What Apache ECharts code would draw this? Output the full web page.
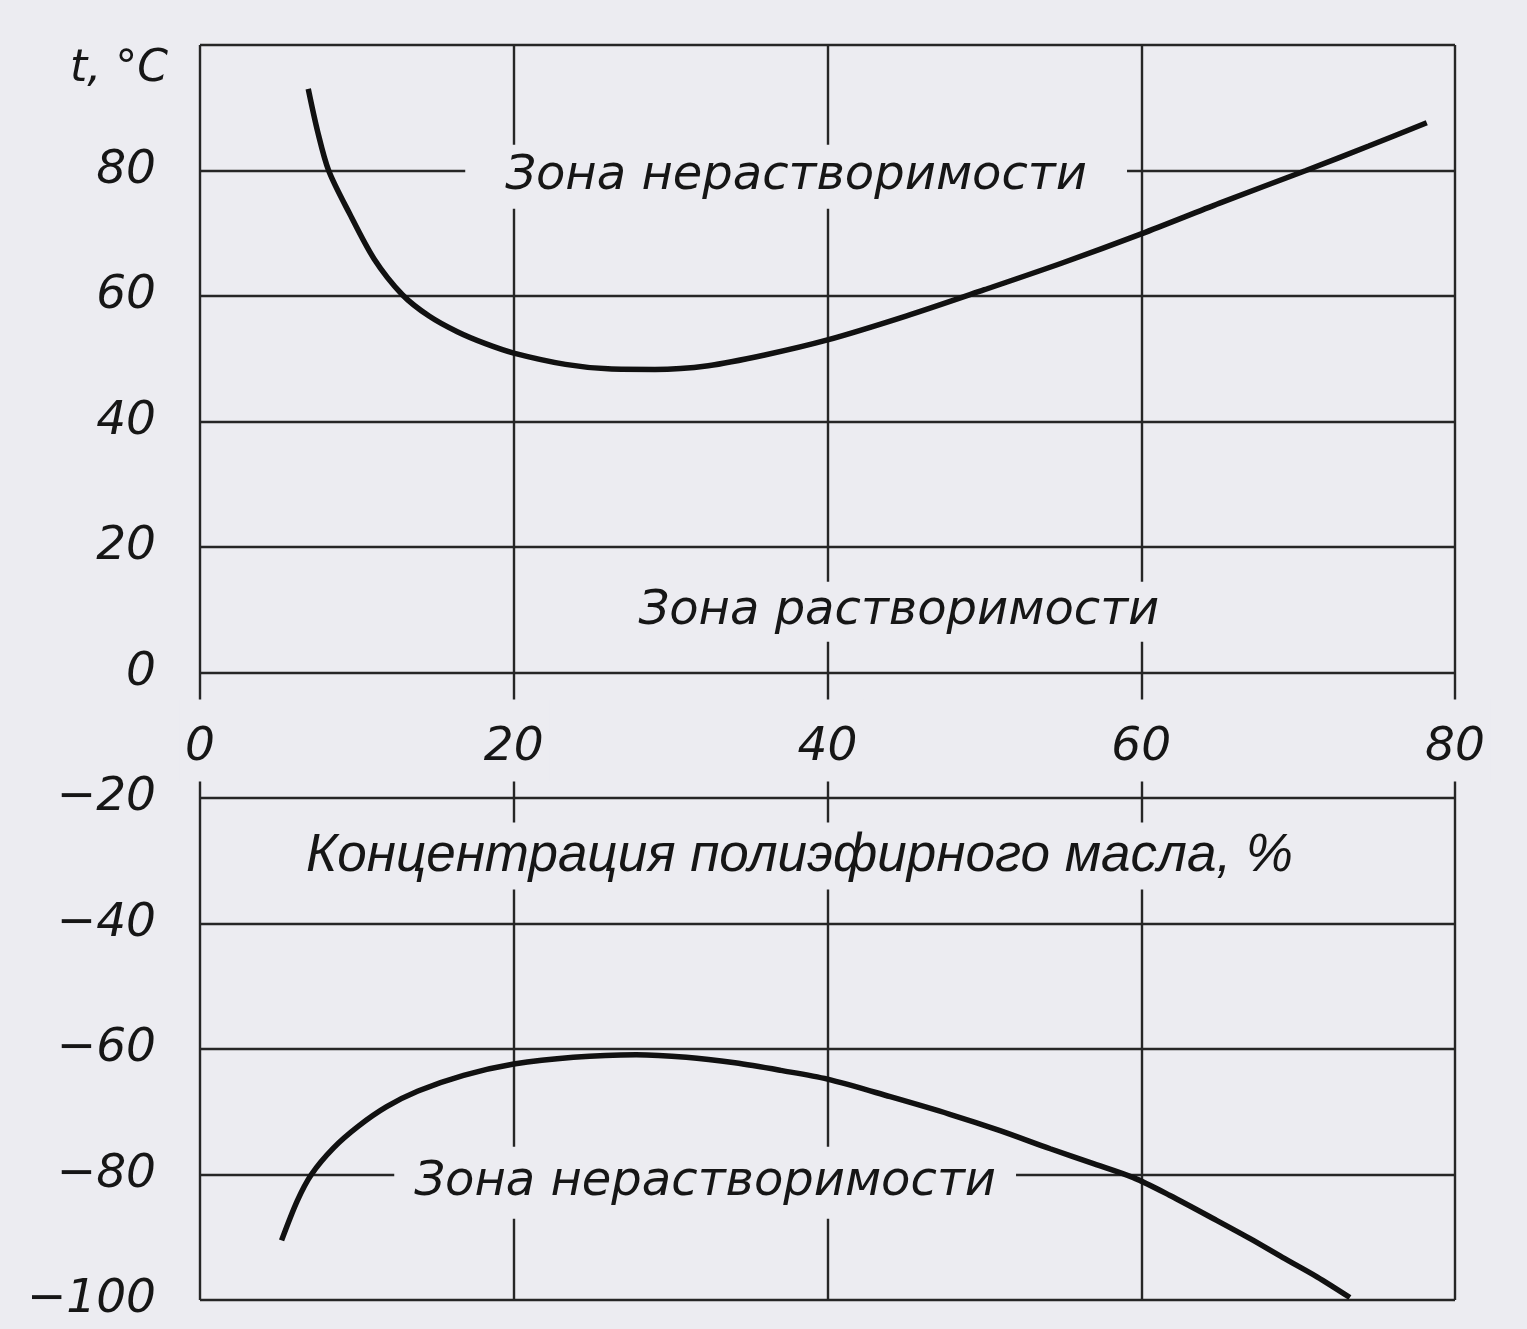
<!DOCTYPE html>
<html>
<head>
<meta charset="utf-8">
<script src="https://cdn.jsdelivr.net/npm/echarts@6/dist/echarts.min.js"></script>
<style>
html,body{margin:0;padding:0;background:#ececf1;}
#chart{width:1527px;height:1329px;}
</style>
</head>
<body>
<div id="chart"></div>
<script>
// Upper solubility boundary: [concentration %, t °C]
const upperCurve = [[6.9,93],[7.5,86.2],[8.2,80],[9.5,73.3],[11.1,65.9],[12.9,60.2],[14.6,56.8],[16.4,54.3],[18.2,52.4],[20,50.9],[23.3,49.1],[26,48.4],[29,48.3],[32.4,48.9],[36,50.6],[40,53],[45,56.8],[50,61],[55,65.3],[60,69.9],[65,74.8],[70.5,80],[74.5,83.9],[78.2,87.6]];
// Lower solubility boundary
const lowerCurve = [[5.2,-90.5],[6.2,-84.2],[7.1,-80],[8.5,-75.8],[10.1,-72.3],[11.9,-69.2],[13.9,-66.7],[16.8,-64.2],[20,-62.4],[23.8,-61.3],[27.8,-60.9],[31,-61.3],[34.1,-62.2],[37,-63.4],[40,-64.8],[44,-67.6],[47.8,-70.4],[51,-73],[54.2,-75.9],[57,-78.3],[59.5,-80.5],[61.8,-83.3],[64.8,-87.3],[67,-90.3],[69,-93.2],[71.2,-96.3],[73.3,-99.6]];
// Zone annotations: [x, y, text]
const zoneLabels = [[38.0,79,'Зона нерастворимости'],[44.55,9.7,'Зона растворимости'],[32.2,-81.3,'Зона нерастворимости']];
const xTicks = [0,20,40,60,80];
const yTicks = [-100,-80,-60,-40,-20,0,20,40,60,80];
const xTitle = 'Концентрация полиэфирного масла, %';
const yTitle = 't, °C';

const BG = '#ececf1';
const INK = '#161616';
const LINE = '#262626';
const numFont = {fontFamily:'DejaVu Sans', fontStyle:'italic', fontSize:47, color:INK};
const labelPads = [[8,40],[6,12],[12,20]];
const gridRect = {left:200, right:72, top:45, bottom:29, containLabel:false, outerBoundsMode:'none'};
const Y_MIN = -100, Y_MAX = 100;
// distance (px) from the plot bottom to the t = 0 line, derived from the grid layout
const plotH = 1329 - gridRect.top - gridRect.bottom;
const zeroOffset = -plotH * (0 - Y_MIN) / (Y_MAX - Y_MIN);

const chart = echarts.init(document.getElementById('chart'));
chart.setOption({
  backgroundColor: BG,
  animation: false,
  grid: [Object.assign({}, gridRect), Object.assign({}, gridRect)],
  xAxis: [
    {type:'value', gridIndex:0, min:0, max:80, interval:20,
     axisLine:{show:false, onZero:false}, axisTick:{show:false}, axisLabel:{show:false},
     splitLine:{show:true, lineStyle:{color:LINE, width:2.4}}},
    {type:'value', gridIndex:1, min:0, max:80, interval:20, z:10, position:'bottom', offset:zeroOffset,
     axisLine:{show:false, onZero:false}, axisTick:{show:false},
     splitLine:{show:false},
     axisLabel:Object.assign({margin:27, backgroundColor:BG, padding:[25,6,10,6],
        formatter: v => xTicks.indexOf(v) >= 0 ? String(v) : ''}, numFont),
     name: xTitle, nameLocation:'middle', nameGap:150,
     nameTextStyle:{fontFamily:'Liberation Sans', fontStyle:'italic', fontSize:53, color:INK,
        backgroundColor:BG, padding:[7,60,7,4]}}
  ],
  yAxis: [
    {type:'value', gridIndex:0, min:Y_MIN, max:Y_MAX, interval:20,
    axisLine:{show:false}, axisTick:{show:false},
    splitLine:{show:true, lineStyle:{color:LINE, width:2.4}},
    axisLabel:Object.assign({margin:44,
      formatter: v => yTicks.indexOf(v) >= 0 ? String(v).replace('-', '\u2212') : ''}, numFont),
    name: yTitle, nameLocation:'end', nameGap:-25,
    nameTextStyle:{fontFamily:'DejaVu Sans', fontStyle:'italic', fontSize:44, color:INK,
      align:'right', verticalAlign:'middle', padding:[0,32,0,0]}},
    {type:'value', gridIndex:1, min:Y_MIN, max:Y_MAX, interval:20, show:false}
  ],
  series: [
    {type:'line', data:upperCurve, smooth:0.3, showSymbol:false, symbol:'none',
     lineStyle:{color:'#111', width:5.5}, xAxisIndex:0, yAxisIndex:0},
    {type:'line', data:lowerCurve, smooth:0.3, showSymbol:false, symbol:'none',
     lineStyle:{color:'#111', width:5.5}, xAxisIndex:0, yAxisIndex:0},
    {type:'scatter', xAxisIndex:0, yAxisIndex:0, symbolSize:1, z:5,
     itemStyle:{color:'rgba(0,0,0,0)', opacity:1},
     data: zoneLabels.map((d, i) => ({value:[d[0], d[1]], name:d[2],
        label:{padding:labelPads[i]}})),
     label:{show:true, position:'inside', formatter: p => p.name, opacity:1,
       fontFamily:'DejaVu Sans', fontStyle:'italic', fontSize:48, color:INK,
       backgroundColor:BG}}
  ]
});
</script>
</body>
</html>
